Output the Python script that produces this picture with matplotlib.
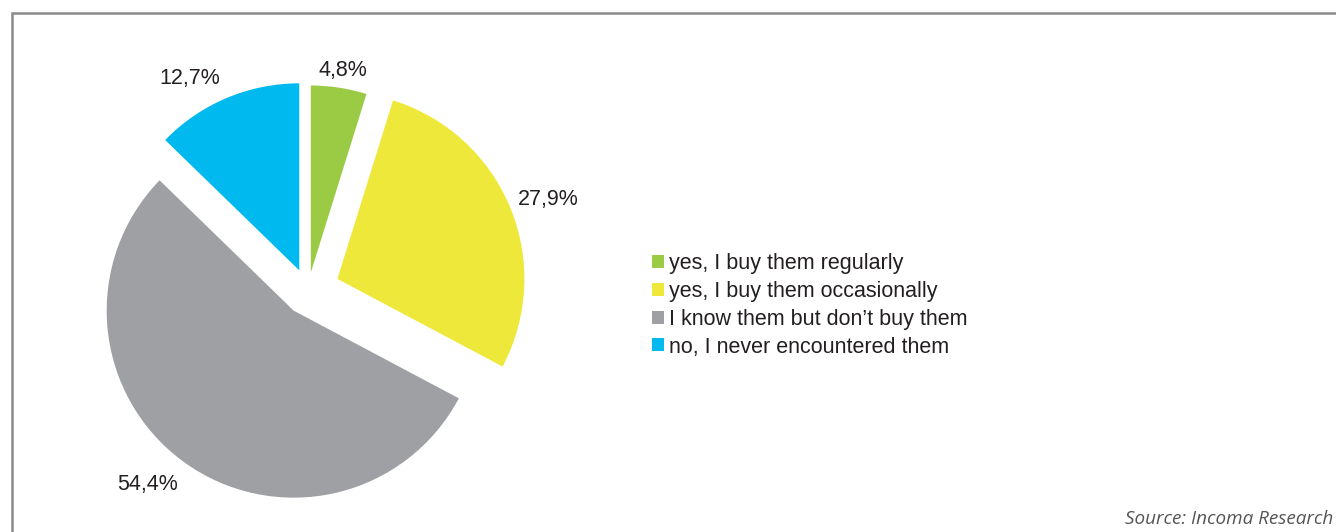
import matplotlib
matplotlib.use("Agg")
import matplotlib.pyplot as plt
from matplotlib.patches import Rectangle

# Survey answers and their shares (%)
categories = [
    "yes, I buy them regularly",
    "yes, I buy them occasionally",
    "I know them but don\u2019t buy them",
    "no, I never encountered them",
]
shares = [4.8, 27.9, 54.4, 12.7]
colors = ["#9BCA45", "#EEE83A", "#9EA0A4", "#00B9EF"]
source_note = "Source: Incoma Research"

W, H = 1336, 532
DPI = 100
fig = plt.figure(figsize=(W / DPI, H / DPI), dpi=DPI)
fig.patch.set_facecolor("white")

# Pie axes spanning the whole figure; one data unit equals the pie radius
cx, cy, R = 308.0, 291.0, 187.0
ax = fig.add_axes([0, 0, 1, 1])
explode = [0.10, 0.17, 0.13, 0.12]
wedges, _ = ax.pie(shares, colors=colors, startangle=90, counterclock=False,
                   explode=explode, radius=1.0,
                   wedgeprops=dict(linewidth=0, antialiased=True))
ax.set_aspect("auto")
ax.set_xlim(-cx / R, (W - cx) / R)
ax.set_ylim(-(H - cy) / R, cy / R)
ax.axis("off")

# Percentage labels placed around their wedges
label_pos = [(0.187, 1.18), (1.283, 0.487), (-0.856, -1.037), (-0.631, 1.139)]
for val, (lx, ly) in zip(shares, label_pos):
    ax.text(lx, ly, f"{val:.1f}%".replace(".", ","), ha="center", va="center",
            fontsize=15.5, color="#231F20", family="Liberation Sans")

# Legend
ax.legend(wedges, categories, loc="center left",
          bbox_to_anchor=(652 / W, 1 - 305.5 / H), bbox_transform=fig.transFigure,
          frameon=False, handlelength=0.55, handleheight=0.55,
          handletextpad=0.25, labelspacing=0.31, borderpad=0, borderaxespad=0,
          prop={"family": "Liberation Sans", "size": 15.5})
for t in ax.get_legend().get_texts():
    t.set_color("#231F20")

# Panel frame (runs off the right and bottom edges)
frame = Rectangle((12 / W, -0.05), 1.1, 1 - 13 / H + 0.05,
                  transform=fig.transFigure, fill=False,
                  edgecolor="#8A8A8A", linewidth=1.8, clip_on=False)
fig.add_artist(frame)

fig.text(1333 / W, 1 - 519 / H, source_note, ha="right", va="center",
         fontsize=13.6, style="italic", color="#555555", family="Open Sans")

fig.savefig("out.png", dpi=DPI, facecolor="white")
